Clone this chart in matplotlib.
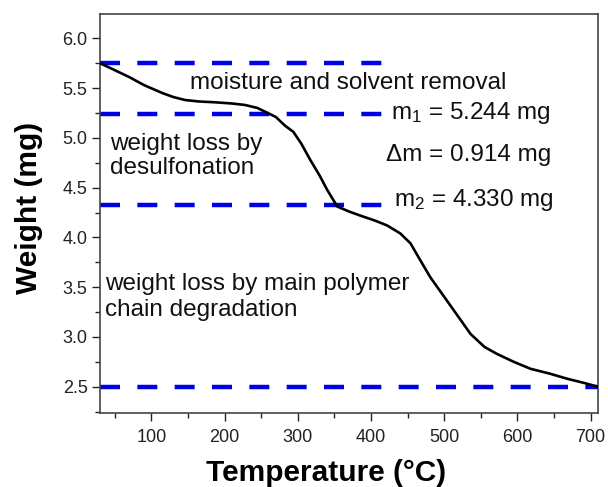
import matplotlib
matplotlib.use("Agg")
import matplotlib.pyplot as plt
from matplotlib.ticker import MultipleLocator

plt.rcParams['font.family'] = ['Liberation Sans', 'DejaVu Sans']
plt.rcParams['mathtext.fontset'] = 'custom'
plt.rcParams['mathtext.rm'] = 'Liberation Sans'
plt.rcParams['mathtext.it'] = 'Liberation Sans'

# TGA curve
temperature = [30, 50, 70, 90, 115, 130, 146, 165, 187, 210, 228, 245, 256, 270,
               283, 294, 305, 317, 330, 340, 354, 370, 385, 405, 422, 440, 454,
               465, 481, 510, 536, 555, 572, 595, 618, 645, 668, 690, 710]
weight = [5.75, 5.68, 5.61, 5.53, 5.45, 5.41, 5.38, 5.365, 5.357, 5.345, 5.33,
          5.30, 5.26, 5.21, 5.12, 5.06, 4.94, 4.78, 4.62, 4.48, 4.31, 4.26, 4.22,
          4.17, 4.12, 4.04, 3.94, 3.80, 3.60, 3.30, 3.03, 2.90, 2.83, 2.75, 2.68,
          2.63, 2.58, 2.54, 2.50]

# reference levels (mg) and the temperature range each dashed line covers
m_start = 5.75
m1 = 5.244
m2 = 4.330
m_end = 2.50
delta_m = m1 - m2
short_span = (30, 415)
full_span = (30, 710)

x_ticks = [100, 200, 300, 400, 500, 600, 700]
y_ticks = [2.5, 3.0, 3.5, 4.0, 4.5, 5.0, 5.5, 6.0]

fig = plt.figure(figsize=(6.08, 4.87), dpi=100)
ax = fig.add_axes([0.1645, 0.1513, 0.819, 0.82])

dash_kw = dict(color='#0000e6', lw=3.2, dashes=(4.5, 3.9), zorder=2)
for level in (m_start, m1, m2):
    ax.plot(short_span, [level, level], **dash_kw)
ax.plot(full_span, [m_end, m_end], **dash_kw)

ax.plot(temperature, weight, color='black', lw=1.9, zorder=3,
        solid_joinstyle='round')

ax.set_xlim(30, 710)
ax.set_ylim(2.233, 6.244)
ax.set_xticks(x_ticks)
ax.set_yticks(y_ticks)
ax.xaxis.set_minor_locator(MultipleLocator(50))
ax.yaxis.set_minor_locator(MultipleLocator(0.25))
ax.tick_params(which='major', direction='out', length=6, width=1.0,
               labelsize=13, colors='#222222')
ax.tick_params(axis='x', which='major', pad=5)
ax.tick_params(axis='y', which='major', pad=3)
ax.tick_params(which='minor', direction='out', length=3.5, width=1.0,
               colors='#222222')
for sp in ax.spines.values():
    sp.set_color('#444444')
    sp.set_linewidth(1.2)

ax.set_xlabel('Temperature (°C)', fontsize=21.5, fontweight='bold',
              labelpad=9.5, x=0.454)
ax.set_ylabel('Weight (mg)', fontsize=21.5, fontweight='bold',
              labelpad=14, y=0.514)

txt = dict(fontsize=17.5, color='#111111', va='center', ha='left')
ax.text(153, 5.55, 'moisture and solvent removal', **txt)
ax.text(427, m1 + 0.01, r'm$_\mathregular{1}$ = %.3f mg' % m1, **txt)
ax.text(420, 4.83, 'Δm = %.3f mg' % delta_m, **txt)
ax.text(431, m2 + 0.05, r'm$_\mathregular{2}$ = %.3f mg' % m2, **txt)
ax.text(44, 4.817, 'weight loss by\ndesulfonation', linespacing=1.1, **txt)
ax.text(37, 3.403, 'weight loss by main polymer\nchain degradation',
        linespacing=1.2, **txt)

fig.savefig('out.png', dpi=100)
